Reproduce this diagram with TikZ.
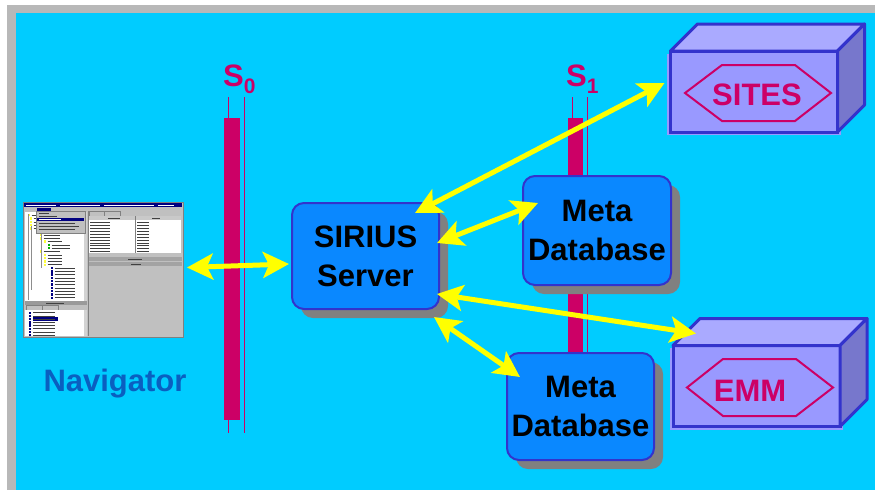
\documentclass[tikz,border=0pt]{standalone}
\usepackage{fontspec}
\setmainfont{Liberation Sans}
\usetikzlibrary{arrows.meta,shadows,calc}

\definecolor{bgcyan}{HTML}{00CCFF}
\definecolor{framegray}{HTML}{B8B8B8}
\definecolor{barmagenta}{HTML}{CC0066}
\definecolor{boxblue}{HTML}{0A88FF}
\definecolor{edgeblue}{HTML}{3333CC}
\definecolor{shadowgray}{HTML}{808080}
\definecolor{cubefrontc}{HTML}{9999FF}
\definecolor{cubetopc}{HTML}{AAAAFF}
\definecolor{cubesidec}{HTML}{7777CC}
\definecolor{arrowyellow}{HTML}{FFFF00}
\definecolor{navblue}{HTML}{0A5FC0}
\definecolor{winface}{HTML}{C0C0C0}
\definecolor{wintitle}{HTML}{000080}
\definecolor{wintext}{HTML}{404040}
\definecolor{folderyellow}{HTML}{FFFF40}

\tikzset{
  bigfont/.style={font=\bfseries\fontsize{31}{39}\selectfont},
  dbbox/.style={draw=edgeblue, line width=2pt, fill=boxblue, rounded corners=12pt,
    inner sep=0pt, outer sep=0pt, align=center, bigfont,
    drop shadow={shadow xshift=9pt, shadow yshift=-9pt, fill=shadowgray, opacity=1}},
  cubefront/.style={draw=edgeblue, line width=3pt, fill=cubefrontc, inner sep=0pt,
    outer sep=0pt, minimum width=167pt, minimum height=81pt},
  cubeedge/.style={draw=edgeblue, line width=3pt, line join=round},
  hexline/.style={draw=barmagenta, line width=2pt},
  cubelabel/.style={bigfont, text=barmagenta, inner sep=0pt},
  yarrow/.style={draw=arrowyellow, line width=5pt,
    arrows={Stealth[length=26pt,width=26pt,inset=6pt]-Stealth[length=26pt,width=26pt,inset=6pt]}},
  sbar/.style={fill=barmagenta},
  sline/.style={draw=barmagenta, line width=1pt},
  slabel/.style={text=barmagenta, font=\bfseries\fontsize{31}{31}\selectfont, inner sep=0pt, anchor=base west},
  txtline/.style={draw=wintext, line width=0.6pt},
}

\begin{document}
\begin{tikzpicture}[x=1pt,y=-1pt]
  \useasboundingbox (0,0) rectangle (875,490);
  % page frame and background
  \fill[white] (0,0) rectangle (875,490);
  \fill[framegray] (7,5) rectangle (875,490);
  \fill[bgcyan] (16,13) rectangle (875,490);

  % separation lines S0 and S1
  \draw[sline] (228,97) -- (228,433);
  \fill[sbar] (224,118) rectangle (240,420);
  \draw[sline] (244,97) -- (244,433);
  \node[slabel] (s0) at (223,86) {S\raisebox{-7pt}{\fontsize{21}{21}\selectfont 0}};

  \draw[sline] (572,97) -- (572,433);
  \fill[sbar] (568,118) rectangle (583,420);
  \draw[sline] (587,97) -- (587,433);
  \node[slabel] (s1) at (566,86) {S\raisebox{-7pt}{\fontsize{21}{21}\selectfont 1}};

  % Navigator window
  \node[draw=shadowgray, line width=0.6pt, fill=winface, minimum width=160pt, minimum height=135pt,
        inner sep=0pt, outer sep=0pt] (nav) at (103,269.5) {};
  \fill[wintitle] (24,203) rectangle (182,207);
  \foreach \x/\l in {26/30, 60/40, 104/50, 158/16} \draw[white, line width=0.6pt] (\x,205) -- ++(\l,0);
  \fill[wintitle] (37,207.5) rectangle (51,211);
  % left tree pane
  \fill[white] (25,212) rectangle (87,301);
  \fill[winface!70!white] (84,212) rectangle (87,301);
  % tree items
  \foreach \i/\x/\c/\l in {0/28/folderyellow/14, 1/30/folderyellow/14, 2/30/folderyellow/18, 3/30/folderyellow/18,
      4/30/folderyellow/18, 5/40/folderyellow/18, 6/40/folderyellow/16, 7/40/folderyellow/16,
      8/44/folderyellow/14, 9/48/green!70!black/18, 10/48/green!70!black/18, 11/40/folderyellow/16,
      12/44/folderyellow/14, 13/44/folderyellow/14, 14/44/folderyellow/14, 15/44/folderyellow/14,
      16/51/wintitle/20, 17/51/wintitle/20, 18/51/wintitle/20, 19/51/wintitle/20, 20/51/wintitle/20,
      21/51/wintitle/20, 22/51/wintitle/20, 23/51/wintitle/20, 24/51/wintitle/20, 25/51/wintitle/20}
  {
    \fill[\c] (\x,214+\i*3.3) rectangle ++(2.4,2.4);
    \draw[txtline] (\x+3.5,215.2+\i*3.3) -- ++(\l,0);
  }
  \draw[wintext!60, line width=0.4pt] (28,214) -- (28,300) (31,226) -- (31,290) (41,232) -- (41,268);
  % drop-down menu
  \fill[winface] (36,211) rectangle (85,233);
  \draw[shadowgray, line width=0.4pt] (36,211) rectangle (85,233);
  \fill[wintitle] (37,217.5) rectangle (84,221);
  \foreach \y/\l in {213.5/10, 216/18, 219.2/22, 222.8/36, 226.2/40, 229.6/36}
    \draw[txtline] (39,\y) -- ++(\l,0);
  \draw[white, line width=0.6pt] (39,219.2) -- ++(22,0);
  % lower left list
  \fill[winface!80!black] (25,301) rectangle (87,305);
  \draw[txtline] (46,303) -- ++(18,0);
  \draw[shadowgray, line width=0.4pt] (26,305) rectangle (42,310) (42,305) rectangle (58,310);
  \fill[white] (25,310) rectangle (87,336);
  \fill[winface!70!white] (84,310) rectangle (87,336);
  \fill[wintitle] (33,317.3) rectangle (58,320.5);
  \foreach \i in {0,...,7} {
    \fill[wintitle] (29,311.5+\i*3.2) rectangle ++(2.4,2.4);
    \draw[txtline] (33,312.7+\i*3.2) -- ++(22,0);
  }
  % right pane: table and detail area
  \draw[shadowgray, line width=0.4pt] (89,211) rectangle (104,216) (104,211) rectangle (120,216);
  \fill[white] (89,216) rectangle (181,253);
  \fill[winface!85!white] (89,216) rectangle (181,220);
  \draw[txtline] (108,218) -- ++(12,0) (152,218) -- ++(8,0);
  \draw[shadowgray, line width=0.4pt] (135,216) -- (135,253);
  \foreach \i in {0,...,10} {
    \draw[txtline] (90,222.5+\i*2.9) -- ++(20,0);
    \draw[txtline] (137,222.5+\i*2.9) -- ++(12,0);
  }
  \fill[winface!85!black] (89,257) rectangle (182,261);
  \draw[txtline] (128,259) -- ++(14,0);
  \fill[winface!85!black] (89,262) rectangle (182,266);
  \draw[txtline] (131,264) -- ++(10,0);
  \draw[shadowgray, line width=0.4pt] (88,211) -- (88,336);

  \node[text=navblue, font=\bfseries\fontsize{31}{31}\selectfont, inner sep=0pt] (navlabel) at (115,384) {Navigator};

  % server and databases
  \node[dbbox, minimum width=147pt, minimum height=106pt] (srv) at (365.5,256) {SIRIUS\\Server};
  \node[dbbox, minimum width=148pt, minimum height=109pt] (metaA) at (597,230.5) {Meta\\Database};
  \node[dbbox, minimum width=147pt, minimum height=107pt] (metaB) at (580.5,406.5) {Meta\\Database};

  % SITES cube
  \fill[cubefrontc] (667,54) rectangle (841,135);
  \node[cubefront] (sites) at (754,91.5) {};
  \draw[cubeedge, fill=cubetopc] (sites.north west) -- ++(27,-27) -- ++(167,0) -- (sites.north east) -- cycle;
  \draw[cubeedge, fill=cubesidec] (sites.north east) -- ++(27,-27) -- ++(0,81) -- (sites.south east) -- cycle;
  \draw[hexline] (685,93) -- (722,65) -- (795,65) -- (831,93) -- (795,121) -- (722,121) -- cycle;
  \node[cubelabel] (sitesLabel) at (757,95) {SITES};

  % EMM cube
  \fill[cubefrontc] (670,348) rectangle (843,430);
  \node[cubefront] (emm) at (756.5,386) {};
  \draw[cubeedge, fill=cubetopc] (emm.north west) -- ++(27,-27) -- ++(167,0) -- (emm.north east) -- cycle;
  \draw[cubeedge, fill=cubesidec] (emm.north east) -- ++(27,-27) -- ++(0,81) -- (emm.south east) -- cycle;
  \draw[hexline] (687,387.5) -- (723,359) -- (796,359) -- (833,387.5) -- (796,416) -- (723,416) -- cycle;
  \node[cubelabel] (emmLabel) at (750,390.5) {EMM};

  % communication arrows
  \draw[yarrow] ([shift={(4,-2)}]nav.east) -- ([shift={(-3,8)}]srv.west);
  \draw[yarrow] ([shift={(-24,10)}]srv.north east) -- ([shift={(-6,-8.5)}]sites.west);
  \draw[yarrow] ([shift={(-2,-13)}]srv.east) -- ([shift={(15,27)}]metaA.north west);
  \draw[yarrow] ([shift={(-2,38)}]srv.east) -- ([shift={(23,-12)}]emm.north west);
  \draw[yarrow] ([shift={(-5,8)}]srv.south east) -- ([shift={(13,24)}]metaB.north west);
\end{tikzpicture}
\end{document}
